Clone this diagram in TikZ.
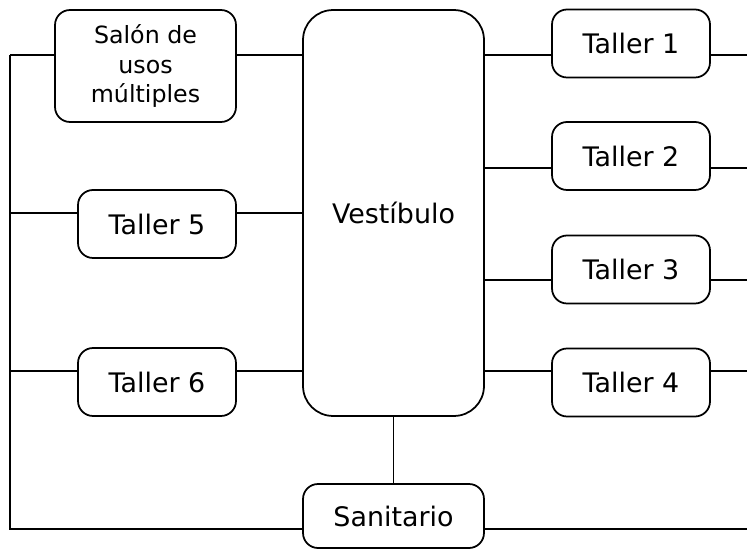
\documentclass[tikz,border=0pt]{standalone}
\usepackage{fontspec}
\setmainfont{DejaVu Sans}
\begin{document}
\begin{tikzpicture}[x=0.02cm,y=-0.02cm,line width=1pt,
  caja/.style={draw,rounded corners=0.3cm,align=center,inner sep=0pt,font=\fontsize{15.3}{18}\selectfont},
  taller/.style={caja,minimum width=3.16cm,minimum height=1.36cm}]
\useasboundingbox (0,0) rectangle (747,550);
%\node {\includegraphics{plano.png}};
\node[caja,minimum width=3.62cm,minimum height=2.24cm,font=\fontsize{13.5}{16.6}\selectfont] (salon) at (145.5,66) {Salón de\\usos\\múltiples};
\node[taller] (t5) at (157,224) {Taller 5};
\node[taller] (t6) at (157,382) {Taller 6};
\node[caja,rounded corners=0.6cm,minimum width=3.62cm,minimum height=8.12cm] (vest) at (393.5,213) {Vestíbulo};
\node[taller] (t1) at (631,43.5) {Taller 1};
\node[taller] (t2) at (631,156) {Taller 2};
\node[taller] (t3) at (631,269.5) {Taller 3};
\node[taller] (t4) at (631,382.5) {Taller 4};
\node[caja,minimum width=3.62cm,minimum height=1.28cm] (san) at (393.5,516) {Sanitario};
\coordinate (f1) at (10,55);
\coordinate (f2) at (10,213);
\coordinate (f3) at (10,371);
\coordinate (f4) at (10,529);
\coordinate (r1) at (747,55);
\coordinate (r2) at (747,168);
\coordinate (r3) at (747,280);
\coordinate (r4) at (747,371);
\coordinate (r5) at (747,529);
% lado izquierdo
\draw (f1) -- (salon.west |- f1);
\draw (salon.east |- f1) -- (vest.west |- f1);
\draw (f2) -- (t5.west |- f2);
\draw (t5.east |- f2) -- (vest.west |- f2);
\draw (f3) -- (t6.west |- f3);
\draw (t6.east |- f3) -- (vest.west |- f3);
\draw (f1) -- (f4) -- (san.west |- f4);
% lado derecho
\foreach \t/\r in {t1/r1,t2/r2,t3/r3,t4/r4}{
  \draw (vest.east |- \r) -- (\t.west |- \r);
  \draw (\t.east |- \r) -- (\r);
}
\draw (san.east |- r5) -- (r5);
\draw (vest.south) -- (san.north);
\end{tikzpicture}
\end{document}
